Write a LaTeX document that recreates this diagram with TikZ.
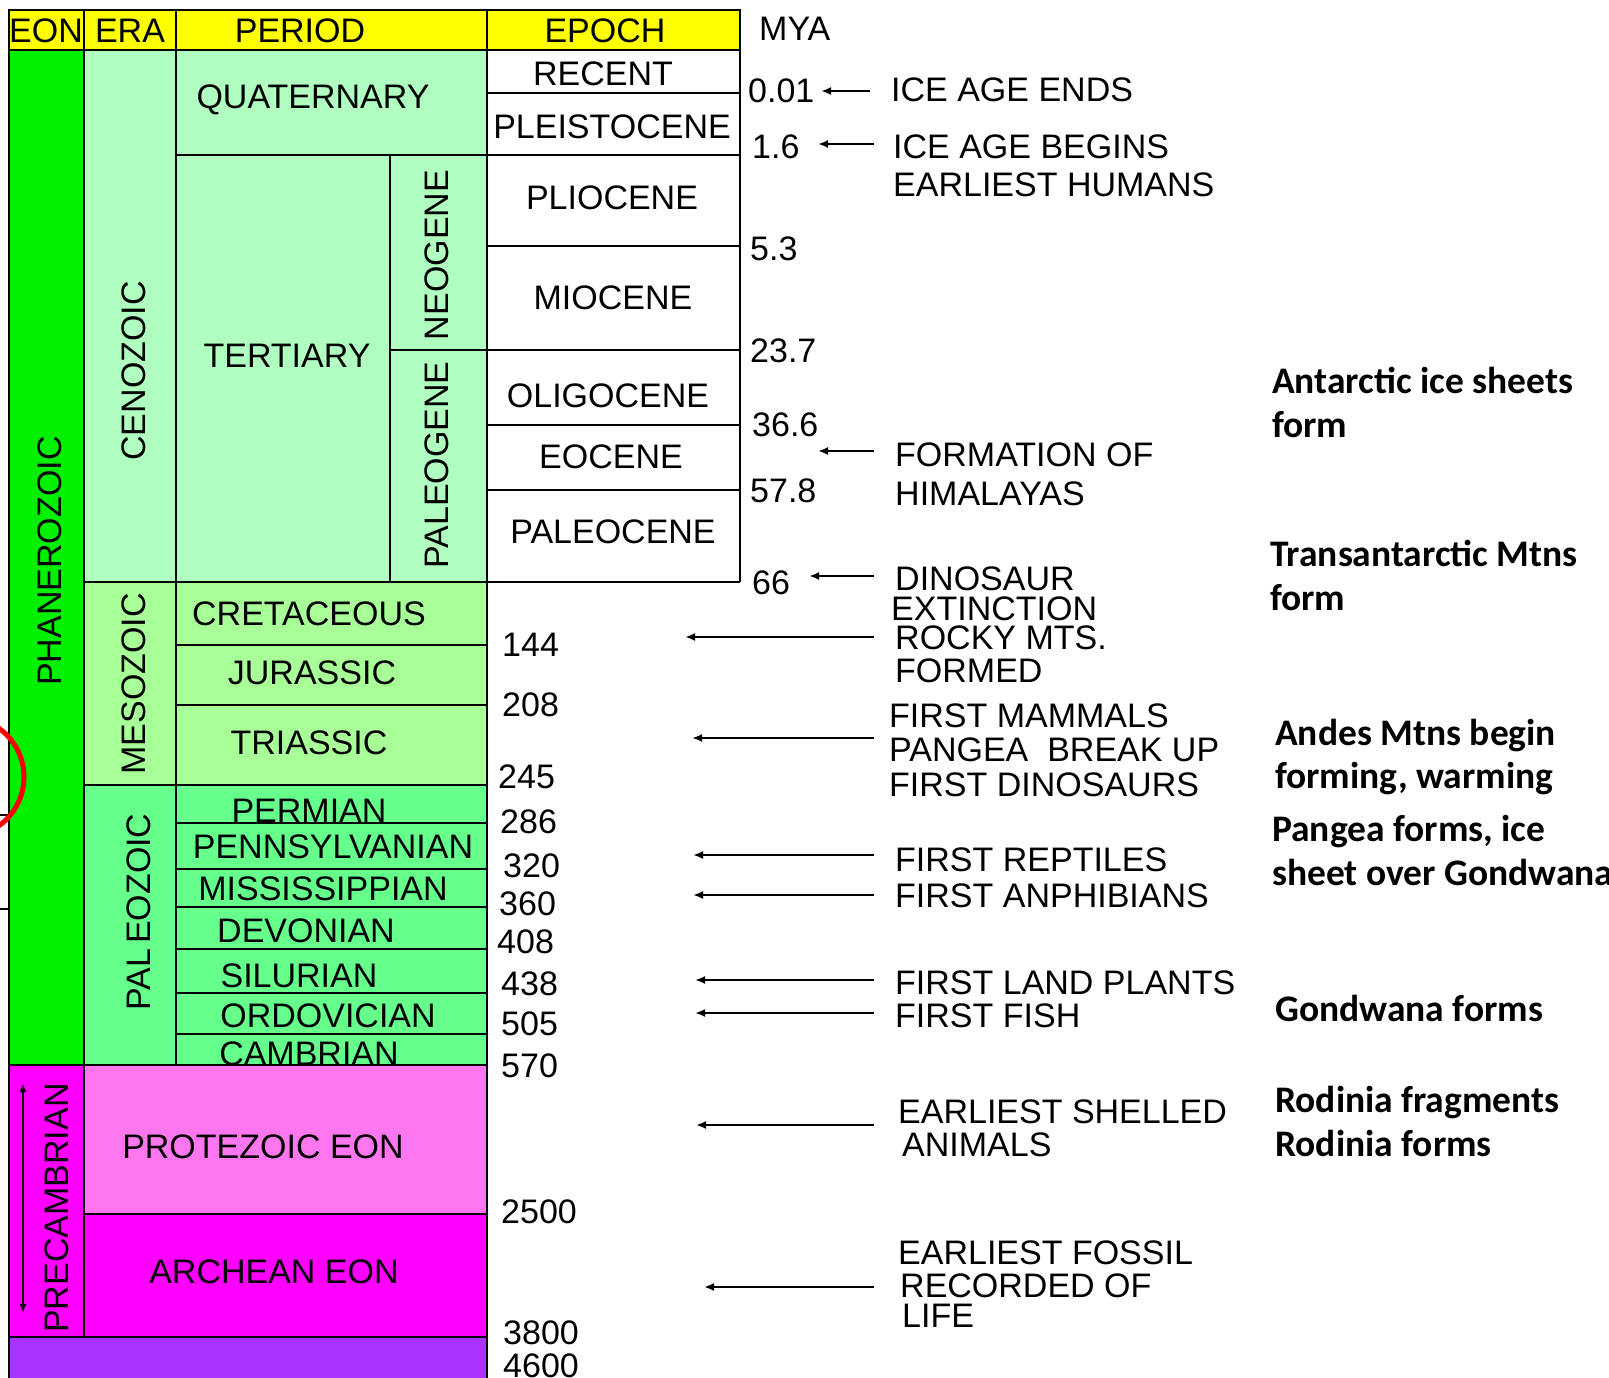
\documentclass[tikz,border=0pt]{standalone}
\usepackage{fontspec}
\setmainfont{Liberation Sans}
\newfontfamily\calfont{Carlito}
\usetikzlibrary{arrows.meta}
\definecolor{hdr}{HTML}{FFFF00}
\definecolor{phan}{HTML}{00F000}
\definecolor{ceno}{HTML}{B0FFC0}
\definecolor{meso}{HTML}{A8FF98}
\definecolor{paleo}{HTML}{66FF8C}
\definecolor{precam}{HTML}{FF00FF}
\definecolor{protero}{HTML}{FF77EE}
\definecolor{archean}{HTML}{FF00FF}
\definecolor{hadean}{HTML}{AA33FF}
\begin{document}
\begin{tikzpicture}[x=1pt,y=-1pt,
  ln/.style={draw=black, line width=2.2},
  lab/.style={font=\fontsize{34}{40}\selectfont, inner sep=0pt, text height=24pt, text depth=0pt},
  vlab/.style={lab, rotate=90},
  num/.style={lab, anchor=west},
  ev/.style={lab, anchor=west},
  rnote/.style={font=\calfont\bfseries\fontsize{37.5}{44}\selectfont, inner sep=0pt, anchor=west, text height=24pt, text depth=0pt},
  arr/.style={line width=2, -{Latex[length=10pt,width=8pt]}},
  dbl/.style={line width=1.8, {Latex[length=9pt,width=7pt]}-{Latex[length=9pt,width=7pt]}},
]
\useasboundingbox (0,0) rectangle (1609,1378);
\fill[white] (0,0) rectangle (1609,1378);
\clip (0,0) rectangle (1609,1378);

% ---------- fills ----------
\fill[hdr] (9,10) rectangle (740,50);
\fill[phan] (9,50) rectangle (84,1065);
\fill[ceno] (84,50) rectangle (487,582);
\fill[white] (487,50) rectangle (740,582);
\fill[meso] (84,582) rectangle (487,785);
\fill[paleo] (84,785) rectangle (487,1065);

% CAMBRIAN text sits partly under the Precambrian rows
\node[lab] (cambrian) at (309,1053) {CAMBRIAN};

\fill[precam] (9,1065) rectangle (84,1337);
\fill[protero] (84,1065) rectangle (487,1214);
\fill[archean] (84,1214) rectangle (487,1337);
\fill[hadean] (9,1337) rectangle (487,1378);

% ---------- grid lines ----------
\draw[ln] (9,10) rectangle (740,50);
\draw[ln] (9,10) -- (9,1378);
\draw[ln] (84,10) -- (84,1337);
\draw[ln] (176,10) -- (176,1065);
\draw[ln] (487,10) -- (487,1378);
\draw[ln] (740,10) -- (740,582);
\draw[ln] (390,155) -- (390,582);
\draw[ln] (487,93) -- (740,93);
\draw[ln] (176,155) -- (740,155);
\draw[ln] (487,246) -- (740,246);
\draw[ln] (390,350) -- (740,350);
\draw[ln] (487,425) -- (740,425);
\draw[ln] (487,490) -- (740,490);
\draw[ln] (84,582) -- (740,582);
\draw[ln] (176,645) -- (487,645);
\draw[ln] (176,705) -- (487,705);
\draw[ln] (84,785) -- (487,785);
\foreach \yy in {823,869,907,949,993,1034} \draw[ln] (176,\yy) -- (487,\yy);
\draw[ln] (9,1065) -- (487,1065);
\draw[ln] (84,1214) -- (487,1214);
\draw[ln] (9,1337) -- (487,1337);

% ---------- header ----------
\node[lab] (hEon) at (46,31) {EON};
\node[lab] (hEra) at (130,31) {ERA};
\node[lab] (hPer) at (300,31) {PERIOD};
\node[lab] (hEpo) at (605,31) {EPOCH};
\node[lab, anchor=west] (hMya) at (759,29) {MYA};

% ---------- eons / eras ----------
\node[vlab] (phanero) at (49,561) {PHANEROZOIC};
\node[vlab] (precamb) at (56,1208) {PRECAMBRIAN};
\coordinate (pcTop) at (23,1083);
\coordinate (pcBot) at (23,1313);
\draw[dbl] (pcTop) -- (pcBot);
\node[vlab] (cenozoic) at (133,371) {CENOZOIC};
\node[vlab] (mesozoic) at (133,684) {MESOZOIC};
\node[vlab] (paleozoic) at (138,912) {PAL\kern5pt EOZOIC};

% ---------- periods ----------
\node[lab] (quat) at (313,97) {QUATERNARY};
\node[lab] (tert) at (287,355) {TERTIARY};
\node[vlab] (neog) at (436,255) {NEOGENE};
\node[vlab] (paleog) at (436,465) {PALEOGENE};
\node[lab] (cret) at (309,613) {CRETACEOUS};
\node[lab] (jura) at (312,672) {JURASSIC};
\node[lab] (tria) at (309,742) {TRIASSIC};
\node[lab] (perm) at (309,810) {PERMIAN};
\node[lab] (penn) at (333,846) {PENNSYLVANIAN};
\node[lab] (miss) at (323,888) {MISSISSIPPIAN};
\node[lab] (devo) at (306,930) {DEVONIAN};
\node[lab] (silu) at (299,975) {SILURIAN};
\node[lab] (ordo) at (328,1015) {ORDOVICIAN};
\node[lab] (prot) at (263,1146) {PROTEZOIC EON};
\node[lab] (arch) at (274,1271) {ARCHEAN EON};

% ---------- epochs ----------
\node[lab] (recent) at (603,74) {RECENT};
\node[lab] (pleist) at (612,127) {PLEISTOCENE};
\node[lab] (plio) at (612,197) {PLIOCENE};
\node[lab] (mio) at (613,297) {MIOCENE};
\node[lab] (oligo) at (608,395) {OLIGOCENE};
\node[lab] (eoc) at (611,456) {EOCENE};
\node[lab] (paleoc) at (613,531) {PALEOCENE};

% ---------- ages (MYA) ----------
\node[num] (m1) at (748,91) {0.01};
\node[num] (m2) at (752,147) {1.6};
\node[num] (m3) at (750,248) {5.3};
\node[num] (m4) at (750,350) {23.7};
\node[num] (m5) at (752,424) {36.6};
\node[num] (m6) at (750,490) {57.8};
\node[num] (m7) at (752,582) {66};
\node[num] (m8) at (502,644) {144};
\node[num] (m9) at (502,704) {208};
\node[num] (m10) at (498,776) {245};
\node[num] (m11) at (500,821) {286};
\node[num] (m12) at (503,865) {320};
\node[num] (m13) at (499,903) {360};
\node[num] (m14) at (497,941) {408};
\node[num] (m15) at (501,983) {438};
\node[num] (m16) at (501,1023) {505};
\node[num] (m17) at (501,1065) {570};
\node[num] (m18) at (501,1211) {2500};
\node[num] (m19) at (503,1332) {3800};
\node[num] (m20) at (503,1365) {4600};

% ---------- events ----------
\node[ev] (e1) at (891,90) {ICE AGE ENDS};
\node[ev] (e2a) at (893,146) {ICE AGE BEGINS};
\node[ev] (e2b) at (893,184) {EARLIEST HUMANS};
\node[ev] (e3a) at (895,454) {FORMATION OF};
\node[ev] (e3b) at (895,493) {HIMALAYAS};
\node[ev] (e4a) at (895,578) {DINOSAUR};
\node[ev] (e4b) at (891,608) {EXTINCTION};
\node[ev] (e5a) at (895,637) {ROCKY MTS.};
\node[ev] (e5b) at (895,670) {FORMED};
\node[ev] (e6a) at (889,715) {FIRST MAMMALS};
\node[ev] (e6b) at (889,749) {PANGEA\ \ BREAK UP};
\node[ev] (e6c) at (889,784) {FIRST DINOSAURS};
\node[ev] (e7) at (895,859) {FIRST REPTILES};
\node[ev] (e8) at (895,895) {FIRST ANPHIBIANS};
\node[ev] (e9) at (895,982) {FIRST LAND PLANTS};
\node[ev] (e10) at (895,1015) {FIRST FISH};
\node[ev] (e11a) at (898,1111) {EARLIEST SHELLED};
\node[ev] (e11b) at (902,1144) {ANIMALS};
\node[ev] (e12a) at (898,1252) {EARLIEST FOSSIL};
\node[ev] (e12b) at (900,1285) {RECORDED OF};
\node[ev] (e12c) at (902,1315) {LIFE};

% ---------- arrows ----------
\coordinate (s1) at (870,91);   \coordinate (t1) at (821,91);
\coordinate (s2) at (874,144);  \coordinate (t2) at (818,144);
\coordinate (s3) at (874,451);  \coordinate (t3) at (818,451);
\coordinate (s4) at (874,576);  \coordinate (t4) at (809,576);
\coordinate (s5) at (874,637);  \coordinate (t5) at (685,637);
\coordinate (s6) at (874,738);  \coordinate (t6) at (692,738);
\coordinate (s7) at (874,855);  \coordinate (t7) at (693,855);
\coordinate (s8) at (874,895);  \coordinate (t8) at (693,895);
\coordinate (s9) at (874,980);  \coordinate (t9) at (695,980);
\coordinate (s10) at (874,1013); \coordinate (t10) at (695,1013);
\coordinate (s11) at (874,1125); \coordinate (t11) at (696,1125);
\coordinate (s12) at (874,1287); \coordinate (t12) at (704,1287);
\foreach \i in {1,...,12} \draw[arr] (s\i) -- (t\i);

% ---------- right-hand notes ----------
\node[rnote] (n1a) at (1272,381) {Antarctic ice sheets};
\node[rnote] (n1b) at (1272,425) {form};
\node[rnote] (n2a) at (1270,554) {Transantarctic Mtns};
\node[rnote] (n2b) at (1270,598) {form};
\node[rnote] (n3a) at (1275,733) {Andes Mtns begin};
\node[rnote] (n3b) at (1275,776) {forming, warming};
\node[rnote] (n4a) at (1272,829) {Pangea forms, ice};
\node[rnote] (n4b) at (1272,873) {sheet over Gondwana};
\node[rnote] (n5) at (1275,1009) {Gondwana forms};
\node[rnote] (n6a) at (1275,1100) {Rodinia fragments};
\node[rnote] (n6b) at (1275,1144) {Rodinia forms};

% ---------- left-edge marks ----------
\draw[line width=2] (0,815) -- (9,815);
\draw[line width=2] (0,909) -- (9,909);
\draw[red, line width=5] (-36,777) circle[radius=60];
\end{tikzpicture}
\end{document}
